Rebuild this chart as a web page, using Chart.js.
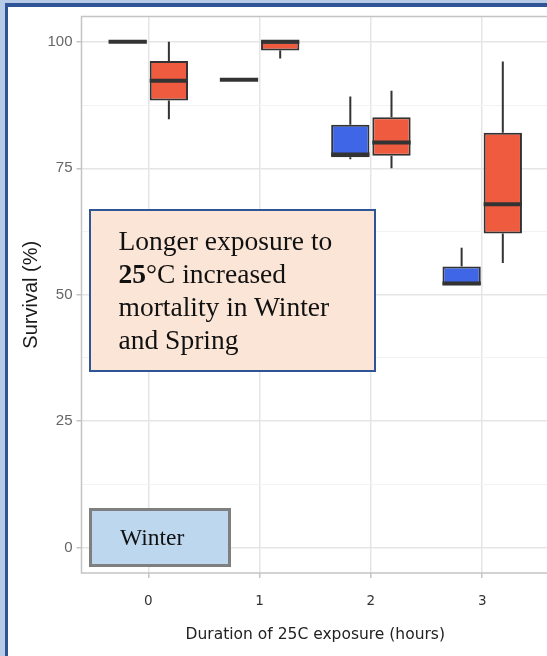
<!DOCTYPE html>
<html>
<head>
<meta charset="utf-8">
<script src="https://cdn.jsdelivr.net/npm/chart.js@4"></script>
<style>
html, body { margin: 0; padding: 0; overflow: hidden; background: #fff; }
#wrap { position: relative; width: 547px; height: 656px; overflow: hidden; }
#canvas { position: absolute; left: 0; top: 0; }
.frameOuter { position: absolute; left: 0; top: 0; width: 600px; height: 700px; box-sizing: border-box;
  border-left: 5px solid #b7cbe8; border-top: 3px solid #b7cbe8; }
.frameInner { position: absolute; left: 5px; top: 3px; width: 600px; height: 700px; box-sizing: border-box;
  border-left: 3.5px solid #2f5597; border-top: 4px solid #2f5597; }
.note { position: absolute; left: 89px; top: 209px; width: 287px; height: 163px; box-sizing: border-box;
  border: 2.5px solid #2f5597; background: #fbe5d6; color: #111;
  font-family: "Liberation Serif", "Times New Roman", serif; font-size: 27.5px; line-height: 33px;
  padding: 13px 0 0 27.5px; white-space: nowrap; }
.season { position: absolute; left: 89px; top: 508px; width: 142px; height: 59px; box-sizing: border-box;
  border: 3px solid #7f7f7f; background: #bdd7ee; color: #111;
  font-family: "Liberation Serif", "Times New Roman", serif; font-size: 23.5px; line-height: 28px;
  padding: 12px 0 0 28px; }
</style>
</head>
<body>
<div id="wrap">
  <canvas id="canvas" width="552" height="656"></canvas>
  <div class="frameOuter"></div>
  <div class="frameInner"></div>
  <div class="note">Longer exposure to<br><b>25</b>°C increased<br>mortality in Winter<br>and Spring</div>
  <div class="season">Winter</div>
</div>
<script>
// exposure duration (hours)
const durations = [0, 1, 2, 3];

// blue boxes
const blueLow  = [100, 92.5, 76.8, 51.9];
const blueQ1   = [100, 92.5, 77.2, 51.9];
const blueMed  = [100, 92.5, 77.7, 52.2];
const blueQ3   = [100, 92.5, 83.6, 55.6];
const blueHigh = [100, 92.5, 89.2, 59.3];

// red boxes
const redLow  = [84.7, 96.7, 75.0, 56.3];
const redQ1   = [88.4, 98.3, 77.5, 62.1];
const redMed  = [92.3, 100, 80.1, 67.9];
const redQ3   = [96.2, 100, 85.1, 82.0];
const redHigh = [100, 100, 90.3, 96.1];

const yLabels = [0, 25, 50, 75, 100];

let boxes = (q1, q3) => durations.map((d, i) => ({x: d, y: [q1[i], q3[i]]}));

// grid every 12.5, labels only on the 25s
let yGrid = [];
yLabels.forEach((v, i) => {
    yGrid.push(v);
    if (i < yLabels.length - 1) yGrid.push((v + yLabels[i + 1]) / 2);
});
let isMajor = v => yLabels.includes(v);

let whiskers = {
    id: 'whiskers',
    beforeDatasetsDraw(chart) {
        let ctx = chart.ctx, y = chart.scales.y, a = chart.chartArea;
        ctx.save();
        ctx.strokeStyle = '#c4c4c4';
        ctx.lineWidth = 1.5;
        ctx.strokeRect(a.left, a.top, a.right - a.left, a.bottom - a.top);
        ctx.strokeStyle = '#333';
        ctx.lineWidth = 2;
        chart.data.datasets.forEach((ds, di) => {
            chart.getDatasetMeta(di).data.forEach((bar, i) => {
                ctx.beginPath();
                ctx.moveTo(bar.x, y.getPixelForValue(ds.stats.high[i]));
                ctx.lineTo(bar.x, y.getPixelForValue(ds.stats.q3[i]));
                ctx.moveTo(bar.x, y.getPixelForValue(ds.stats.q1[i]));
                ctx.lineTo(bar.x, y.getPixelForValue(ds.stats.low[i]));
                ctx.stroke();
            });
        });
        ctx.restore();
    },
    afterDatasetsDraw(chart) {
        let ctx = chart.ctx, y = chart.scales.y;
        ctx.save();
        ctx.strokeStyle = '#333';
        ctx.lineWidth = 4;
        chart.data.datasets.forEach((ds, di) => {
            chart.getDatasetMeta(di).data.forEach((bar, i) => {
                let py = y.getPixelForValue(ds.stats.med[i]);
                ctx.beginPath();
                ctx.moveTo(bar.x - bar.width / 2, py);
                ctx.lineTo(bar.x + bar.width / 2, py);
                ctx.stroke();
            });
        });
        ctx.restore();
    }
};

let ctx = document.getElementById('canvas').getContext('2d');

let chart = new Chart(ctx, {
    type: 'bar',
    data: {
        datasets: [{
            label: 'blue',
            data: boxes(blueQ1, blueQ3),
            stats: {low: blueLow, q1: blueQ1, med: blueMed, q3: blueQ3, high: blueHigh},
            backgroundColor: '#3f66e6',
        }, {
            label: 'red',
            data: boxes(redQ1, redQ3),
            stats: {low: redLow, q1: redQ1, med: redMed, q3: redQ3, high: redHigh},
            backgroundColor: '#ee5b3f',
        }]
    },
    options: {
        responsive: false,
        animation: false,
        layout: {padding: {left: 0, top: 16.5, right: 3, bottom: 0}},
        datasets: {
            bar: {
                borderColor: '#333',
                borderWidth: 2,
                borderSkipped: false,
                categoryPercentage: 0.74,
                barPercentage: 0.93,
            }
        },
        plugins: {legend: {display: false}, tooltip: {enabled: false}},
        scales: {
            x: {
                type: 'linear',
                min: -0.6,
                max: 3.6,
                offset: false,
                afterBuildTicks: s => { s.ticks = durations.map(v => ({value: v})); },
                afterFit: s => { s.height = 83; },
                grid: {offset: false, color: '#e5e5e5', lineWidth: 1.5, tickLength: 5, tickColor: '#c4c4c4'},
                border: {display: false},
                ticks: {color: '#333', padding: 15, font: {family: 'DejaVu Sans', size: 13.5}},
                title: {
                    display: true,
                    text: 'Duration of 25C exposure (hours)',
                    color: '#222',
                    font: {family: 'DejaVu Sans', size: 15.5},
                    padding: {top: 0, bottom: 12},
                },
            },
            y: {
                min: -5,
                max: 105,
                afterBuildTicks: s => { s.ticks = yGrid.map(v => ({value: v})); },
                afterFit: s => { s.width = 81.5; },
                grid: {
                    color: c => isMajor(c.tick.value) ? '#e5e5e5' : '#f2f2f2',
                    lineWidth: c => isMajor(c.tick.value) ? 1.5 : 1,
                    tickLength: 5,
                    tickColor: c => isMajor(c.tick.value) ? '#c4c4c4' : 'rgba(0,0,0,0)',
                },
                border: {display: false},
                ticks: {
                    color: '#666',
                    padding: 4,
                    font: {family: 'Liberation Sans', size: 15},
                    callback: v => isMajor(v) ? String(v) : '',
                },
                title: {
                    display: true,
                    text: 'Survival (%)',
                    color: '#1a1a1a',
                    font: {family: 'Liberation Sans', size: 20},
                    padding: {top: 19, bottom: 0},
                },
            }
        }
    },
    plugins: [whiskers]
});
</script>
</body>
</html>
